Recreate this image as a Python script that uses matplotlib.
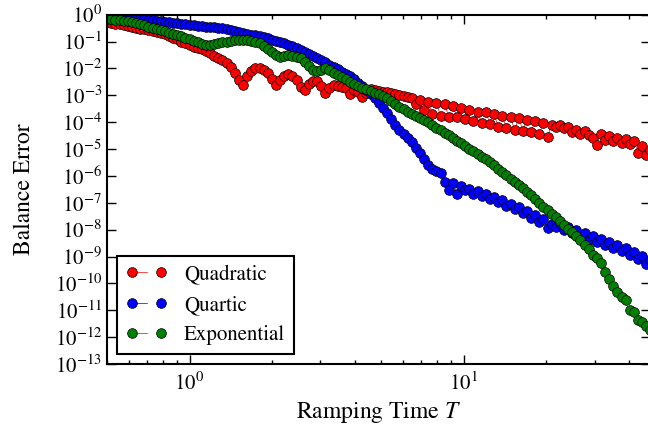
import numpy as np
import matplotlib
matplotlib.use("Agg")
import matplotlib.pyplot as plt
from matplotlib.ticker import LogLocator, NullLocator

# sampling times, stored as log10(T)
log_T = [
    -0.300, -0.285, -0.270, -0.255, -0.240, -0.225, -0.210, -0.195, -0.180, -0.165,
    -0.150, -0.135, -0.120, -0.105, -0.090, -0.075, -0.060, -0.045, -0.030, -0.015,
    0.000, 0.015, 0.030, 0.045, 0.060, 0.075, 0.090, 0.105, 0.120, 0.135,
    0.150, 0.165, 0.180, 0.195, 0.210, 0.225, 0.240, 0.255, 0.270, 0.285,
    0.300, 0.315, 0.330, 0.345, 0.360, 0.375, 0.390, 0.405, 0.420, 0.435,
    0.450, 0.465, 0.480, 0.495, 0.510, 0.525, 0.540, 0.555, 0.570, 0.585,
    0.600, 0.615, 0.630, 0.645, 0.660, 0.675, 0.690, 0.705, 0.720, 0.735,
    0.750, 0.765, 0.780, 0.795, 0.810, 0.825, 0.840, 0.855, 0.870, 0.885,
    0.900, 0.915, 0.930, 0.945, 0.960, 0.975, 0.990, 1.005, 1.020, 1.035,
    1.050, 1.065, 1.080, 1.095, 1.110, 1.125, 1.140, 1.155, 1.170, 1.185,
    1.200, 1.215, 1.230, 1.245, 1.260, 1.275, 1.290, 1.305, 1.320, 1.335,
    1.350, 1.365, 1.380, 1.395, 1.410, 1.425, 1.440, 1.455, 1.470, 1.485,
    1.500, 1.515, 1.530, 1.545, 1.560, 1.575, 1.590, 1.605, 1.620, 1.635,
    1.650, 1.665, 1.680,
]

# balance error, stored as log10(error)
quadratic = [
    -0.27, -0.30, -0.33, -0.36, -0.39, -0.42, -0.45, -0.48, -0.52, -0.55,
    -0.58, -0.61, -0.65, -0.68, -0.72, -0.78, -0.85, -0.92, -1.00, -1.07,
    -1.14, -1.19, -1.23, -1.29, -1.37, -1.44, -1.53, -1.61, -1.70, -1.80,
    -1.96, -2.17, -2.43, -2.61, -2.28, -2.09, -2.00, -1.98, -2.04, -2.17,
    -2.39, -2.61, -2.43, -2.28, -2.22, -2.28, -2.43, -2.69, -2.80, -2.58,
    -2.45, -2.46, -2.65, -2.91, -2.72, -2.61, -2.65, -2.69, -2.72, -2.95,
    -2.80, -2.87, -3.06, -2.91, -2.76, -2.80, -2.84, -2.87, -2.89, -2.91,
    -2.95, -2.98, -3.02, -3.06, -3.10, -3.32, -3.17, -3.54, -3.25, -3.69,
    -3.28, -3.77, -3.32, -3.81, -3.40, -3.81, -3.47, -3.88, -3.54, -3.95,
    -3.62, -4.03, -3.62, -4.06, -3.69, -4.17, -3.77, -4.21, -3.81, -4.29,
    -3.84, -4.32, -3.91, -4.36, -3.95, -4.43, -4.03, -4.55, -4.10, -4.17,
    -4.10, -4.21, -4.17, -4.36, -4.29, -4.43, -4.32, -4.47, -4.58, -4.84,
    -4.43, -4.66, -4.51, -4.69, -4.58, -4.77, -4.62, -4.81, -4.69, -5.14,
    -4.88, -5.22, -5.03,
]

quartic = [
    -0.09, -0.09, -0.10, -0.10, -0.11, -0.12, -0.12, -0.14, -0.15, -0.17,
    -0.19, -0.21, -0.23, -0.25, -0.26, -0.28, -0.30, -0.32, -0.34, -0.36,
    -0.38, -0.40, -0.41, -0.43, -0.44, -0.46, -0.47, -0.49, -0.50, -0.54,
    -0.58, -0.62, -0.65, -0.68, -0.71, -0.74, -0.76, -0.79, -0.84, -0.88,
    -0.93, -0.98, -1.02, -1.07, -1.12, -1.17, -1.24, -1.30, -1.38, -1.45,
    -1.53, -1.60, -1.67, -1.77, -1.86, -1.94, -2.03, -2.12, -2.20, -2.30,
    -2.41, -2.54, -2.67, -2.80, -2.94, -3.10, -3.28, -3.49, -3.67, -3.88,
    -4.10, -4.29, -4.43, -4.58, -4.75, -4.96, -5.14, -5.36, -5.59, -5.75,
    -5.81, -5.88, -6.22, -6.52, -6.26, -6.67, -6.37, -6.52, -6.48, -6.67,
    -6.55, -6.74, -6.67, -6.85, -6.78, -6.96, -6.89, -7.11, -7.04, -7.22,
    -7.15, -7.37, -7.30, -7.56, -7.45, -7.70, -7.59, -7.93, -7.78, -7.89,
    -7.74, -8.00, -7.89, -8.11, -8.00, -8.23, -8.11, -8.38, -8.23, -8.45,
    -8.34, -8.56, -8.45, -8.67, -8.56, -8.78, -8.67, -8.93, -8.82, -9.08,
    -8.97, -9.27, -9.12,
]

exponential = [
    -0.16, -0.17, -0.19, -0.21, -0.23, -0.25, -0.27, -0.31, -0.35, -0.39,
    -0.44, -0.48, -0.53, -0.57, -0.62, -0.67, -0.72, -0.77, -0.81, -0.85,
    -0.90, -0.97, -1.03, -1.08, -1.11, -1.13, -1.10, -1.06, -1.03, -1.00,
    -0.97, -0.95, -0.94, -0.94, -0.95, -0.98, -1.01, -1.07, -1.16, -1.27,
    -1.39, -1.50, -1.56, -1.54, -1.51, -1.52, -1.56, -1.63, -1.76, -1.91,
    -2.06, -2.11, -2.04, -2.00, -2.07, -2.17, -2.26, -2.33, -2.41, -2.50,
    -2.58, -2.65, -2.72, -2.78, -2.84, -2.91, -2.97, -3.04, -3.11, -3.21,
    -3.32, -3.42, -3.52, -3.61, -3.70, -3.78, -3.86, -3.93, -4.01, -4.10,
    -4.21, -4.30, -4.40, -4.49, -4.58, -4.69, -4.79, -4.88, -4.99, -5.08,
    -5.18, -5.29, -5.38, -5.48, -5.61, -5.74, -5.85, -5.96, -6.11, -6.22,
    -6.33, -6.46, -6.59, -6.70, -6.85, -7.00, -7.15, -7.28, -7.41, -7.54,
    -7.67, -7.82, -7.96, -8.10, -8.24, -8.39, -8.56, -8.73, -8.93, -9.04,
    -9.23, -9.57, -9.83, -10.09, -10.31, -10.49, -10.61, -10.98, -11.05, -11.35,
    -11.42, -11.57, -11.72,
]

labels = ["Quadratic", "Quartic", "Exponential"]
colors = ["r", "b", "g"]

plt.rcParams['font.family'] = 'STIXGeneral'
plt.rcParams['mathtext.fontset'] = 'stix'
plt.rcParams['lines.scale_dashes'] = False

fig = plt.figure(figsize=(6.48, 4.37), dpi=100)
ax = fig.add_axes([0.1651, 0.167, 0.838, 0.7994])

T = 10 ** np.array(log_T)
for vals, c, lab in zip([quadratic, quartic, exponential], colors, labels):
    ax.plot(T, 10 ** np.array(vals), color=c, marker='o', ls=(0, (11, 8.6)), lw=0.5,
            ms=7, mec='k', mew=0.5, label=lab)

ax.set_xscale('log')
ax.set_yscale('log')
ax.set_xlim(0.5, 47.7)
ax.set_ylim(1e-13, 1)
ax.yaxis.set_major_locator(LogLocator(base=10, numticks=20))
ax.yaxis.set_minor_locator(NullLocator())

ax.tick_params(which='both', direction='in', top=True, right=True, labelsize=15)
ax.tick_params(which='major', length=6.5, width=1)
ax.tick_params(which='minor', length=3.2, width=1)
ax.tick_params(axis='x', pad=6)
for s in ax.spines.values():
    s.set_linewidth(1.5)

ax.set_xlabel('Ramping Time $T$', fontsize=17, labelpad=4)
ax.set_ylabel('Balance Error', fontsize=17, labelpad=14)

leg = ax.legend(loc='lower left', numpoints=2, fontsize=15, fancybox=False,
                framealpha=1, edgecolor='k')
leg.get_frame().set_linewidth(1.5)

fig.savefig('out.png', dpi=100)
